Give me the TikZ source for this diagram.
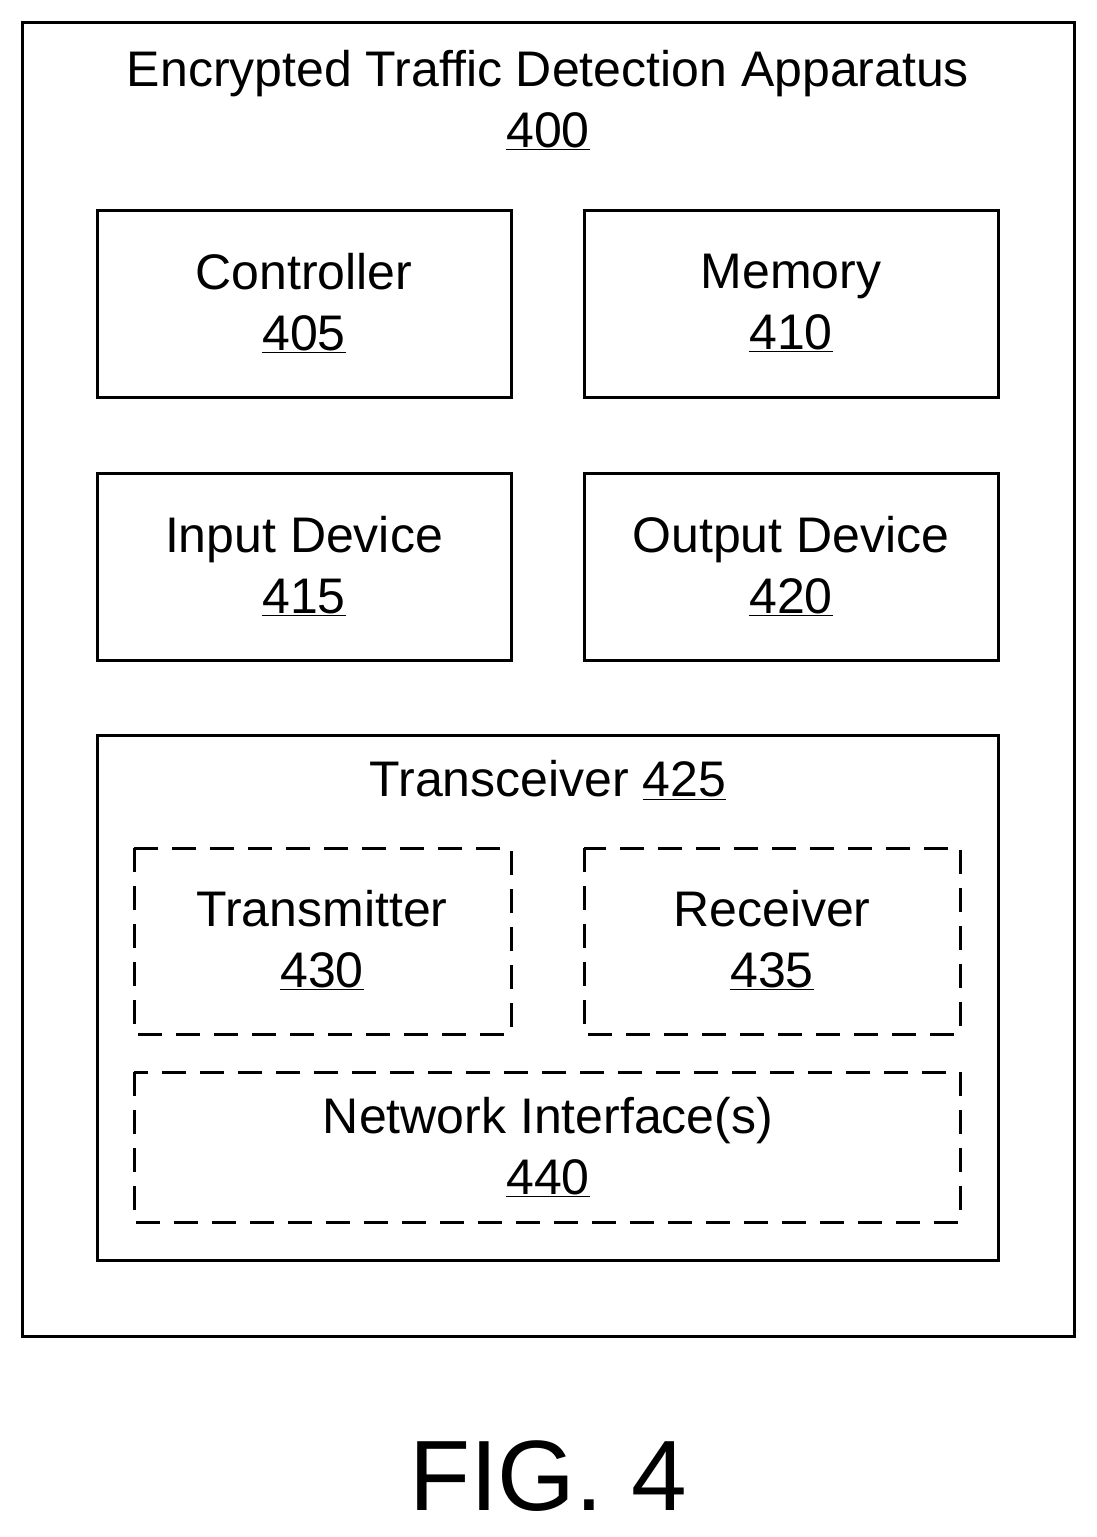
\documentclass[tikz,border=0pt]{standalone}
\usepackage{fontspec}
\setmainfont{Liberation Sans}
\begin{document}
\begin{tikzpicture}[x=1pt,y=-1pt,
  box/.style={draw,line width=3pt},
  dbox/.style={draw,line width=3pt,dash pattern=on 24pt off 14pt},
  lbl/.style={font=\fontsize{50}{61}\selectfont,align=center}]
\useasboundingbox (0,0) rectangle (1096,1537);
\draw[box] (22,22) rectangle (1074,1336);
\node[lbl] (t) at (548,100) {Encrypted Traffic Detection Apparatus\\\underline{400}};
\draw[box] (97,210) rectangle (511,397);
\node[lbl] (c) at (304,303) {Controller\\\underline{405}};
\draw[box] (584,210) rectangle (998,397);
\node[lbl] (m) at (791,303) {Memory\\\underline{410}};
\draw[box] (97,473) rectangle (511,660);
\node[lbl] (i) at (304,566) {Input Device\\\underline{415}};
\draw[box] (584,473) rectangle (998,660);
\node[lbl] (o) at (791,566) {Output Device\\\underline{420}};
\draw[box] (97,735) rectangle (998,1260);
\node[lbl] (tr) at (548,780) {Transceiver \underline{425}};
\draw[dbox] (134,848) rectangle (511,1034);
\node[lbl] (tx) at (322,940) {Transmitter\\\underline{430}};
\draw[dbox] (584,848) rectangle (960,1034);
\node[lbl] (rx) at (772,940) {Receiver\\\underline{435}};
\draw[dbox] (134,1072) rectangle (960,1222);
\node[lbl] (n) at (548,1147) {Network Interface(s)\\\underline{440}};
\node[font=\fontsize{100}{120}\selectfont] (f) at (548,1476) {FIG. 4};
\end{tikzpicture}
\end{document}
